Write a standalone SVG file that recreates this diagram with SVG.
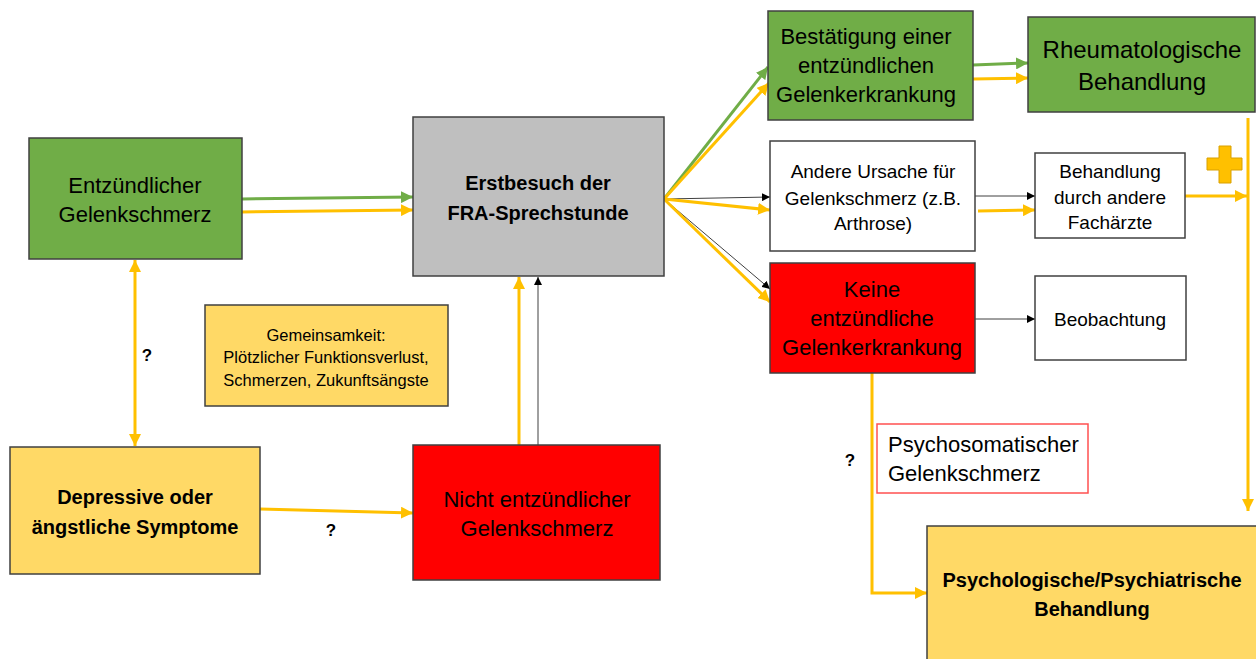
<svg xmlns="http://www.w3.org/2000/svg" width="1256" height="659" viewBox="0 0 1256 659">
<style>
text{font-family:"Liberation Sans",Arial,sans-serif;fill:#000;text-anchor:middle}
.b{font-weight:bold}
.box{stroke:#404040;stroke-width:1.5}
.green{fill:#70AD47}.gray{fill:#BFBFBF}.red{fill:#FF0000}.yel{fill:#FFD966}.white{fill:#FFFFFF}
.o{stroke:#FFC000;stroke-width:3;fill:none}
.g{stroke:#70AD47;stroke-width:3;fill:none}
.k{stroke:#404040;stroke-width:1;fill:none}
</style>
<defs>
<marker id="ao" markerUnits="userSpaceOnUse" markerWidth="12" markerHeight="12" refX="12" refY="6" orient="auto-start-reverse"><path d="M0,0 L12,6 L0,12 z" fill="#FFC000"/></marker>
<marker id="ag" markerUnits="userSpaceOnUse" markerWidth="12" markerHeight="12" refX="12" refY="6" orient="auto"><path d="M0,0 L12,6 L0,12 z" fill="#70AD47"/></marker>
<marker id="ak" markerUnits="userSpaceOnUse" markerWidth="8" markerHeight="8" refX="8" refY="4" orient="auto"><path d="M0,0 L8,4 L0,8 z" fill="#000"/></marker>
</defs>
<rect width="1256" height="659" fill="#FFFFFF"/>

<g id="connectors">
<line class="g" x1="242" y1="199" x2="413" y2="197" marker-end="url(#ag)"/>
<line class="o" x1="242" y1="212" x2="413" y2="210" marker-end="url(#ao)"/>
<line class="o" x1="135" y1="260" x2="135" y2="446" marker-start="url(#ao)" marker-end="url(#ao)"/>
<line class="o" x1="260" y1="509" x2="413" y2="513" marker-end="url(#ao)"/>
<line class="o" x1="519" y1="445" x2="519" y2="277" marker-end="url(#ao)"/>
<line class="k" x1="538" y1="445" x2="538" y2="277" marker-end="url(#ak)"/>
<line class="g" x1="664" y1="199" x2="768" y2="67" marker-end="url(#ag)"/>
<line class="o" x1="664" y1="199" x2="769" y2="83" marker-end="url(#ao)"/>
<line class="k" x1="664" y1="199" x2="770" y2="197" marker-end="url(#ak)"/>
<line class="o" x1="664" y1="199" x2="770" y2="210" marker-end="url(#ao)"/>
<line class="k" x1="664" y1="199" x2="770" y2="289" marker-end="url(#ak)"/>
<line class="o" x1="664" y1="199" x2="770" y2="302" marker-end="url(#ao)"/>
<line class="g" x1="973" y1="65" x2="1028" y2="63" marker-end="url(#ag)"/>
<line class="o" x1="973" y1="79" x2="1028" y2="78" marker-end="url(#ao)"/>
<line class="k" x1="975" y1="196" x2="1035" y2="196" marker-end="url(#ak)"/>
<line class="o" x1="978" y1="211" x2="1035" y2="210" marker-end="url(#ao)"/>
<line class="k" x1="975" y1="319" x2="1035" y2="319" marker-end="url(#ak)"/>
<line class="o" x1="1185" y1="196" x2="1247" y2="196" marker-end="url(#ao)"/>
<line class="o" x1="1248" y1="118" x2="1248" y2="511" marker-end="url(#ao)"/>
<polyline class="o" points="872,373 872,593 927,593" marker-end="url(#ao)"/>
</g>

<g id="n-entz">
<rect class="box green" x="29" y="138" width="213" height="121"/>
<text x="135" y="193" font-size="22">Entzündlicher</text>
<text x="135" y="222" font-size="22">Gelenkschmerz</text>
</g>
<g id="q1"><text class="b" x="147" y="361" font-size="17">?</text></g>

<g id="n-erst">
<rect class="box gray" x="413" y="117" width="251" height="159"/>
<text class="b" x="538" y="190" font-size="20">Erstbesuch der</text>
<text class="b" x="538" y="220" font-size="20">FRA-Sprechstunde</text>
</g>

<g id="n-gemein">
<rect class="box yel" x="205" y="305" width="243" height="101"/>
<text x="326" y="341" font-size="16.5">Gemeinsamkeit:</text>
<text x="326" y="363" font-size="16.5">Plötzlicher Funktionsverlust,</text>
<text x="326" y="386" font-size="16.5">Schmerzen, Zukunftsängste</text>
</g>

<g id="n-depr">
<rect class="box yel" x="10" y="447" width="250" height="127"/>
<text class="b" x="135" y="504" font-size="20">Depressive oder</text>
<text class="b" x="135" y="534" font-size="20">ängstliche Symptome</text>
</g>
<g id="q2"><text class="b" x="331" y="536" font-size="17">?</text></g>

<g id="n-nicht">
<rect class="box red" x="413" y="445" width="247" height="135"/>
<text x="537" y="507" font-size="22">Nicht entzündlicher</text>
<text x="537" y="536" font-size="22">Gelenkschmerz</text>
</g>

<g id="n-best">
<rect class="box green" x="768" y="11" width="205" height="109"/>
<text x="866" y="44" font-size="22">Bestätigung einer</text>
<text x="866" y="73" font-size="22">entzündlichen</text>
<text x="866" y="102" font-size="22">Gelenkerkrankung</text>
</g>

<g id="n-rheuma">
<rect class="box green" x="1028" y="17" width="227" height="95"/>
<text x="1142" y="58" font-size="24">Rheumatologische</text>
<text x="1142" y="90" font-size="24">Behandlung</text>
</g>

<g id="n-andere">
<rect class="box white" x="770" y="141" width="205" height="110"/>
<text x="873" y="178" font-size="19">Andere Ursache für</text>
<text x="873" y="205" font-size="19">Gelenkschmerz (z.B.</text>
<text x="873" y="230" font-size="19">Arthrose)</text>
</g>

<g id="n-fach">
<rect class="box white" x="1035" y="153" width="150" height="85"/>
<text x="1110" y="178" font-size="19">Behandlung</text>
<text x="1110" y="204" font-size="19">durch andere</text>
<text x="1110" y="229" font-size="19">Fachärzte</text>
</g>

<g id="plus">
<path d="M1219,146 H1231 V158 H1242 V170 H1231 V183 H1219 V170 H1207 V158 H1219 Z" fill="#FFC000" stroke="#D9A000" stroke-width="1"/>
</g>

<g id="n-keine">
<rect class="box red" x="770" y="263" width="205" height="110"/>
<text x="872" y="297" font-size="22">Keine</text>
<text x="872" y="326" font-size="22">entzündliche</text>
<text x="872" y="355" font-size="22">Gelenkerkrankung</text>
</g>

<g id="n-beob">
<rect class="box white" x="1035" y="276" width="151" height="84"/>
<text x="1110" y="326" font-size="19">Beobachtung</text>
</g>

<g id="n-psychosom">
<rect x="877" y="424" width="211" height="69" fill="#FFFFFF" stroke="#FF5050" stroke-width="1.5"/>
<text x="888" y="452" font-size="22" style="text-anchor:start">Psychosomatischer</text>
<text x="888" y="481" font-size="22" style="text-anchor:start">Gelenkschmerz</text>
</g>
<g id="q3"><text class="b" x="850" y="466" font-size="17">?</text></g>

<g id="n-psych">
<rect class="box yel" x="927" y="526" width="332" height="140"/>
<text class="b" x="1092" y="587" font-size="20">Psychologische/Psychiatrische</text>
<text class="b" x="1092" y="616" font-size="20">Behandlung</text>
</g>
</svg>
